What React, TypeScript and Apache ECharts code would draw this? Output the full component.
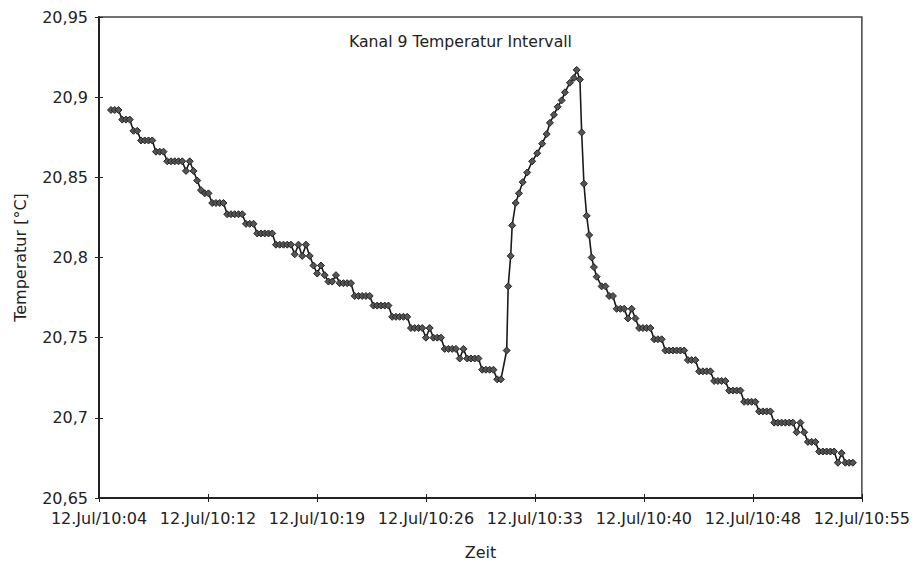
import React, { useEffect, useRef } from 'react';
import * as echarts from 'echarts';

const TITLE = 'Kanal 9 Temperatur Intervall';
const X_NAME = 'Zeit';
const Y_NAME = 'Temperatur [°C]';
const X_TICK_LABELS = [
  '12.Jul/10:04', '12.Jul/10:12', '12.Jul/10:19', '12.Jul/10:26',
  '12.Jul/10:33', '12.Jul/10:40', '12.Jul/10:48', '12.Jul/10:55',
];
const X_TICK_STEP_S = 436;
const Y_MIN = 20.65;
const Y_MAX = 20.95;
const Y_STEP = 0.05;
const SAMPLE_STEP_S = 15;

// first slow cooling (15 s samples)
const FALL1_START_S = 48;
const FALL1_TEMPS = [
  20.892, 20.892, 20.892, 20.886, 20.886, 20.886, 20.879, 20.879, 20.873, 20.873,
  20.873, 20.873, 20.866, 20.866, 20.866, 20.860, 20.860, 20.860, 20.860, 20.860,
  20.854, 20.860, 20.854, 20.848, 20.842, 20.840, 20.840, 20.834, 20.834, 20.834,
  20.834, 20.827, 20.827, 20.827, 20.827, 20.827, 20.821, 20.821, 20.821, 20.815,
  20.815, 20.815, 20.815, 20.815, 20.808, 20.808, 20.808, 20.808, 20.808, 20.802,
  20.808, 20.801, 20.808, 20.801, 20.795, 20.790, 20.795, 20.789, 20.785, 20.785,
  20.789, 20.784, 20.784, 20.784, 20.784, 20.776, 20.776, 20.776, 20.776, 20.776,
  20.770, 20.770, 20.770, 20.770, 20.770, 20.763, 20.763, 20.763, 20.763, 20.763,
  20.756, 20.756, 20.756, 20.756, 20.750, 20.756, 20.750, 20.750, 20.750, 20.743,
  20.743, 20.743, 20.743, 20.737, 20.743, 20.737, 20.737, 20.737, 20.737, 20.730,
  20.730, 20.730, 20.730, 20.724, 20.724,
];

// heating peak (irregular logging interval)
const PEAK_TIMES_S = [
  1631, 1637, 1647, 1653, 1667, 1680, 1695, 1713, 1733, 1753,
  1773, 1791, 1804, 1820, 1835, 1851, 1864, 1884, 1900, 1911,
  1924, 1931, 1940, 1951, 1961, 1971, 1980, 1991,
];
const PEAK_TEMPS = [
  20.742, 20.782, 20.801, 20.820, 20.834, 20.840, 20.847, 20.853, 20.860, 20.865,
  20.871, 20.877, 20.884, 20.889, 20.894, 20.898, 20.903, 20.909, 20.912, 20.917,
  20.911, 20.878, 20.846, 20.826, 20.814, 20.800, 20.794, 20.788,
];

// second slow cooling (15 s samples)
const FALL2_START_S = 2011;
const FALL2_TEMPS = [
  20.782, 20.782, 20.776, 20.776, 20.768, 20.768, 20.768, 20.762, 20.768, 20.762,
  20.756, 20.756, 20.756, 20.756, 20.749, 20.749, 20.749, 20.742, 20.742, 20.742,
  20.742, 20.742, 20.742, 20.736, 20.736, 20.736, 20.729, 20.729, 20.729, 20.729,
  20.723, 20.723, 20.723, 20.723, 20.717, 20.717, 20.717, 20.717, 20.710, 20.710,
  20.710, 20.710, 20.704, 20.704, 20.704, 20.704, 20.697, 20.697, 20.697, 20.697,
  20.697, 20.697, 20.691, 20.697, 20.691, 20.685, 20.685, 20.685, 20.679, 20.679,
  20.679, 20.679, 20.679, 20.672, 20.678, 20.672, 20.672, 20.672,
];

const FONT = 'DejaVu Sans';
const TEXT_COLOR = '#222';

export default function App() {
  const ref = useRef<HTMLDivElement>(null);

  useEffect(() => {
    if (!ref.current) return;
    const chart = echarts.init(ref.current, undefined, { renderer: 'svg' });

    const points: [number, number][] = [
      ...FALL1_TEMPS.map((v, i) => [FALL1_START_S + i * SAMPLE_STEP_S, v] as [number, number]),
      ...PEAK_TIMES_S.map((t, i) => [t, PEAK_TEMPS[i]] as [number, number]),
      ...FALL2_TEMPS.map((v, i) => [FALL2_START_S + i * SAMPLE_STEP_S, v] as [number, number]),
    ];
    const xMax = X_TICK_STEP_S * (X_TICK_LABELS.length - 1);

    const xLabel = (v: number) => X_TICK_LABELS[Math.round(v / X_TICK_STEP_S)] ?? '';
    const yLabel = (v: number) => v.toFixed(2).replace(/0$/, '').replace('.', ',');

    chart.setOption({
      animation: false,
      backgroundColor: '#fff',
      title: {
        text: TITLE,
        left: 349,
        top: 33,
        padding: 0,
        textStyle: { fontFamily: FONT, fontSize: 15.7, fontWeight: 'normal', color: TEXT_COLOR },
      },
      grid: {
        left: 99,
        top: 17,
        right: 51,
        bottom: 68,
        show: true,
        borderColor: '#444',
        borderWidth: 1.5,
        backgroundColor: 'transparent',
      },
      xAxis: [
        {
          type: 'value',
          min: 0,
          max: xMax,
          interval: X_TICK_STEP_S,
          name: X_NAME,
          nameLocation: 'middle',
          nameGap: 46,
          nameTextStyle: { fontFamily: FONT, fontSize: 16, color: TEXT_COLOR },
          axisLine: { show: true, lineStyle: { color: '#222', width: 2 } },
          axisTick: { show: true, length: 4, lineStyle: { color: '#222', width: 1 } },
          axisLabel: {
            formatter: xLabel,
            margin: 12,
            fontFamily: FONT,
            fontSize: 16,
            color: TEXT_COLOR,
            showMinLabel: true,
            showMaxLabel: true,
          },
          splitLine: { show: false },
        },
        {
          type: 'value',
          position: 'bottom',
          min: 0,
          max: xMax,
          interval: X_TICK_STEP_S,
          axisLine: { show: false },
          axisTick: { show: true, inside: true, length: 4, lineStyle: { color: '#222', width: 1 } },
          axisLabel: { show: false },
          splitLine: { show: false },
        },
      ],
      yAxis: [
        {
          type: 'value',
          min: Y_MIN,
          max: Y_MAX,
          interval: Y_STEP,
          name: Y_NAME,
          nameLocation: 'middle',
          nameGap: 71,
          nameTextStyle: { fontFamily: FONT, fontSize: 16, color: TEXT_COLOR },
          axisLine: { show: true, lineStyle: { color: '#222', width: 2 } },
          axisTick: { show: true, length: 4, lineStyle: { color: '#222', width: 1 } },
          axisLabel: {
            formatter: yLabel,
            margin: 11,
            fontFamily: FONT,
            fontSize: 16,
            color: TEXT_COLOR,
          },
          splitLine: { show: false },
        },
        {
          type: 'value',
          position: 'left',
          min: Y_MIN,
          max: Y_MAX,
          interval: Y_STEP,
          axisLine: { show: false },
          axisTick: { show: true, inside: true, length: 4, lineStyle: { color: '#222', width: 1 } },
          axisLabel: { show: false },
          splitLine: { show: false },
        },
      ],
      series: [
        {
          type: 'line',
          xAxisIndex: 0,
          yAxisIndex: 0,
          data: points,
          symbol: 'diamond',
          symbolSize: 7,
          showAllSymbol: true,
          lineStyle: { color: '#1a1a1a', width: 1.6 },
          itemStyle: { color: '#555', borderColor: '#222', borderWidth: 1 },
        },
      ],
    });

    return () => chart.dispose();
  }, []);

  return (
    <div
      ref={ref}
      style={{ position: 'fixed', left: 0, top: 0, width: 913, height: 566, background: '#fff' }}
    />
  );
}
